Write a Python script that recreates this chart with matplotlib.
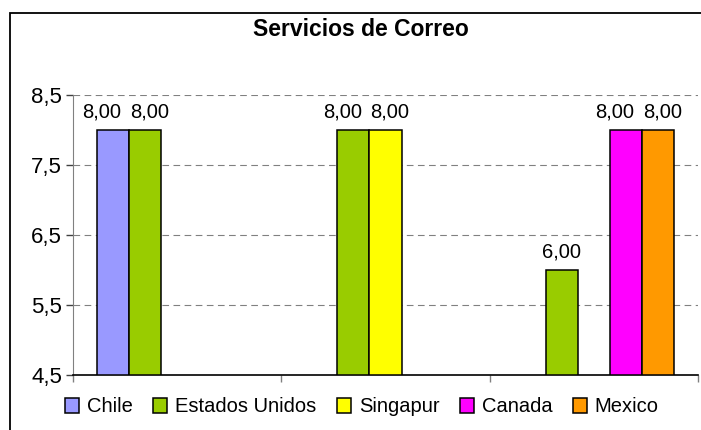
import matplotlib.pyplot as plt
import numpy as np
from matplotlib.patches import Rectangle
from matplotlib.ticker import FuncFormatter

plt.rcParams['font.family'] = ['Liberation Sans', 'DejaVu Sans']

# three unlabeled categories, five countries (NaN = no bar)
categories = ['', '', '']
series = ['Chile', 'Estados Unidos', 'Singapur', 'Canada', 'Mexico']
chile = [8.0, np.nan, np.nan]
estados_unidos = [8.0, 8.0, 6.0]
singapur = [np.nan, 8.0, np.nan]
canada = [np.nan, np.nan, 8.0]
mexico = [np.nan, np.nan, 8.0]
values = [chile, estados_unidos, singapur, canada, mexico]
colors = ['#9999FF', '#99CC00', '#FFFF00', '#FF00FF', '#FF9900']

fig = plt.figure(figsize=(7.01, 4.30), dpi=100)
W, H = 701, 430
ax = fig.add_axes([73 / W, 1 - 375 / H, (698 - 73) / W, (375 - 95) / H])

x = np.arange(len(categories))
width = 0.154
arr = np.array(values)
for i, (name, vals, col) in enumerate(zip(series, values, colors)):
    pos = x + (i - 2) * width
    ax.bar(pos, np.array(vals) - 4.5, width, bottom=4.5, color=col,
           edgecolor='black', linewidth=1.1, label=name, zorder=3)
    for j, (xp, v) in enumerate(zip(pos, vals)):
        if np.isnan(v):
            continue
        # nudge labels apart when the neighbouring bar also has a value
        dx = 0
        if i < 4 and not np.isnan(arr[i + 1, j]):
            dx = -8
        elif i > 0 and not np.isnan(arr[i - 1, j]):
            dx = 3
        ax.annotate(f'{v:.2f}'.replace('.', ','), (xp, v),
                    xytext=(dx, 6), textcoords='offset points',
                    ha='center', va='bottom', fontsize=14.5)

ax.set_xlim(-0.5, len(categories) - 0.5)
ax.set_ylim(4.5, 8.5)
ax.set_yticks([4.5, 5.5, 6.5, 7.5, 8.5])
ax.yaxis.set_major_formatter(FuncFormatter(lambda v, p: f'{v:.1f}'.replace('.', ',')))
ax.set_xticks(np.arange(len(categories) + 1) - 0.5)
ax.set_xticklabels([])
ax.tick_params(axis='y', labelsize=16, length=5, width=1, color='#404040', pad=3)
ax.tick_params(axis='x', length=5, width=1, color='#808080')

for yv in [5.5, 6.5, 7.5, 8.5]:
    ax.axhline(yv, color='#808080', linewidth=0.8, dashes=(6, 4), zorder=1)

ax.spines['top'].set_visible(False)
ax.spines['right'].set_visible(False)
ax.spines['left'].set_color('#808080')
ax.spines['bottom'].set_color('black')
ax.spines['bottom'].set_linewidth(1.2)

fig.text(361 / W, 1 - 29 / H, 'Servicios de Correo', ha='center', va='center',
         fontsize=16.5, fontweight='bold')

fig.legend(loc='center', bbox_to_anchor=(362 / W, 1 - 407 / H), ncol=5,
           frameon=False, fontsize=14.5, handlelength=0.7, handleheight=0.7,
           handletextpad=0.4, columnspacing=1.0, borderaxespad=0)

fig.patches.append(Rectangle((10 / W, -0.1), 1.2, 1.1 - 13 / H, transform=fig.transFigure,
                             fill=False, edgecolor='black', linewidth=1.3))

fig.savefig('out.png', dpi=100)
